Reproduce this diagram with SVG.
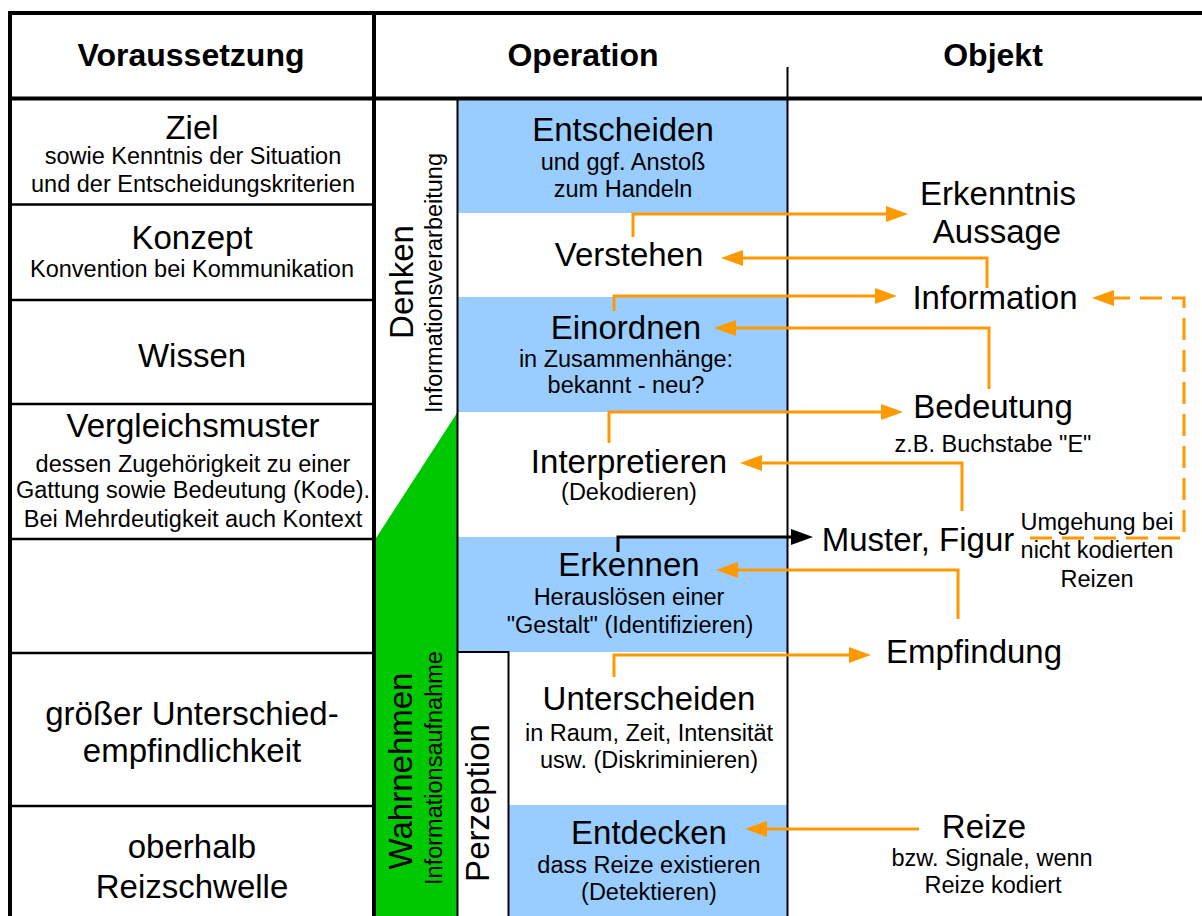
<svg xmlns="http://www.w3.org/2000/svg" width="1202" height="916" viewBox="0 0 1202 916">
<style>
text{font-family:"Liberation Sans",Arial,sans-serif;fill:#000;text-anchor:middle}
.big{font-size:33px}
.sm{font-size:23.5px}
.hdr{font-size:32px;font-weight:bold}
.frame{stroke:#000;stroke-width:4;fill:none}
.row{stroke:#000;stroke-width:2.5;fill:none}
.thin{stroke:#000;stroke-width:2;fill:none}
.blue{fill:#99CCFF}
.con{stroke:#FF9900;stroke-width:3;fill:none}
</style>
<defs>
<marker id="ao" markerUnits="userSpaceOnUse" markerWidth="22" markerHeight="16" refX="0" refY="8" orient="auto"><path d="M0,0 L22,8 L0,16 z" fill="#FF9900"/></marker>
<marker id="ab" markerUnits="userSpaceOnUse" markerWidth="22" markerHeight="16" refX="0" refY="8" orient="auto"><path d="M0,0 L22,8 L0,16 z" fill="#000"/></marker>
</defs>
<rect width="1202" height="916" fill="#fff"/>

<g id="backgrounds">
<rect class="blue" x="458" y="98" width="329" height="115"/>
<rect class="blue" x="458" y="297" width="329" height="115"/>
<rect class="blue" x="458" y="537" width="329" height="115"/>
<rect class="blue" x="509" y="805" width="278" height="111"/>
<polygon points="376,538 457,413 457,916 376,916" fill="#00C800"/>
</g>

<g id="grid">
<line class="frame" x1="8.5" y1="13" x2="1202" y2="13"/>
<line class="frame" x1="10" y1="11" x2="10" y2="916"/>
<line class="frame" x1="8" y1="98.5" x2="1202" y2="98.5"/>
<line class="frame" x1="374" y1="11" x2="374" y2="916"/>
<line class="thin" x1="787.5" y1="67" x2="787.5" y2="916"/>
<line class="thin" x1="457.5" y1="98" x2="457.5" y2="916"/>
<path class="thin" d="M457.5,652 H508.5 V916"/>
<line class="row" x1="10" y1="204.5" x2="374" y2="204.5"/>
<line class="row" x1="10" y1="300" x2="374" y2="300"/>
<line class="row" x1="10" y1="404" x2="374" y2="404"/>
<line class="row" x1="10" y1="539" x2="374" y2="539"/>
<line class="row" x1="10" y1="653" x2="374" y2="653"/>
<line class="row" x1="10" y1="806" x2="374" y2="806"/>
</g>

<g id="header">
<text class="hdr" x="191" y="66">Voraussetzung</text>
<text class="hdr" x="583" y="66">Operation</text>
<text class="hdr" x="993" y="66">Objekt</text>
</g>

<g id="v-ziel"><text class="big" x="192" y="139">Ziel</text><text class="sm" x="193" y="164">sowie Kenntnis der Situation</text><text class="sm" x="193" y="192">und der Entscheidungskriterien</text></g>
<g id="v-konzept"><text class="big" x="192" y="249">Konzept</text><text class="sm" x="192" y="277">Konvention bei Kommunikation</text></g>
<g id="v-wissen"><text class="big" x="192" y="367">Wissen</text></g>
<g id="v-vergleich"><text class="big" x="193" y="437">Vergleichsmuster</text><text class="sm" x="193" y="472">dessen Zugehörigkeit zu einer</text><text class="sm" x="193" y="498">Gattung sowie Bedeutung (Kode).</text><text class="sm" x="193" y="527">Bei Mehrdeutigkeit auch Kontext</text></g>
<g id="v-unterschied"><text class="big" x="192" y="725">größer Unterschied-</text><text class="big" x="192" y="762">empfindlichkeit</text></g>
<g id="v-reizschwelle"><text class="big" x="192" y="858">oberhalb</text><text class="big" x="192" y="898">Reizschwelle</text></g>

<g id="denken"><text class="big" transform="translate(413,282) rotate(-90)">Denken</text><text class="sm" transform="translate(442,283) rotate(-90)">Informationsverarbeitung</text></g>
<g id="wahrnehmen"><text class="big" transform="translate(412,771) rotate(-90)">Wahrnehmen</text><text class="sm" transform="translate(442,768) rotate(-90)">Informationsaufnahme</text></g>
<g id="perzeption"><text class="big" transform="translate(489,803) rotate(-90)">Perzeption</text></g>

<g id="op-entscheiden"><text class="big" x="623" y="141">Entscheiden</text><text class="sm" x="623" y="170">und ggf. Anstoß</text><text class="sm" x="623" y="197">zum Handeln</text></g>
<g id="op-verstehen"><text class="big" x="629" y="266">Verstehen</text></g>
<g id="op-einordnen"><text class="big" x="626" y="339">Einordnen</text><text class="sm" x="626" y="367">in Zusammenhänge:</text><text class="sm" x="626" y="393">bekannt - neu?</text></g>
<g id="op-interpretieren"><text class="big" x="629" y="473">Interpretieren</text><text class="sm" x="629" y="500">(Dekodieren)</text></g>
<g id="op-erkennen"><text class="big" x="629" y="576">Erkennen</text><text class="sm" x="629" y="605">Herauslösen einer</text><text class="sm" x="630" y="633">"Gestalt" (Identifizieren)</text></g>
<g id="op-unterscheiden"><text class="big" x="649" y="710">Unterscheiden</text><text class="sm" x="649" y="741">in Raum, Zeit, Intensität</text><text class="sm" x="649" y="768">usw. (Diskriminieren)</text></g>
<g id="op-entdecken"><text class="big" x="649" y="844">Entdecken</text><text class="sm" x="649" y="873">dass Reize existieren</text><text class="sm" x="649" y="900">(Detektieren)</text></g>

<g id="ob-erkenntnis"><text class="big" x="998" y="205">Erkenntnis</text><text class="big" x="997" y="243">Aussage</text></g>
<g id="ob-information"><text class="big" x="995" y="309">Information</text></g>
<g id="ob-bedeutung"><text class="big" x="993" y="418">Bedeutung</text><text class="sm" x="993" y="452">z.B. Buchstabe "E"</text></g>
<g id="ob-muster"><text class="big" x="918" y="551">Muster, Figur</text></g>
<g id="ob-umgehung"><text class="sm" x="1097" y="530">Umgehung bei</text><text class="sm" x="1097" y="558">nicht kodierten</text><text class="sm" x="1097" y="587">Reizen</text></g>
<g id="ob-empfindung"><text class="big" x="974" y="663">Empfindung</text></g>
<g id="ob-reize"><text class="big" x="984" y="838">Reize</text><text class="sm" x="992" y="866">bzw. Signale, wenn</text><text class="sm" x="993" y="893">Reize kodiert</text></g>

<g id="connectors">
<path class="con" d="M633,237 V214 H886" marker-end="url(#ao)"/>
<path class="con" d="M987,288 V258 H743" marker-end="url(#ao)"/>
<path class="con" d="M614,311 V296 H875" marker-end="url(#ao)"/>
<path class="con" d="M989,389 V328 H736" marker-end="url(#ao)"/>
<path class="con" d="M609,443 V412 H881" marker-end="url(#ao)"/>
<path class="con" d="M962,511 V463 H762" marker-end="url(#ao)"/>
<path d="M618,552 V537 H791" stroke="#000" stroke-width="3" fill="none" marker-end="url(#ab)"/>
<path class="con" d="M958,619 V570 H738" marker-end="url(#ao)"/>
<path class="con" d="M614,677 V655 H849" marker-end="url(#ao)"/>
<path class="con" d="M919,829 H767" marker-end="url(#ao)"/>
<path class="con" d="M1030,538 H1184 V298 H1114" stroke-dasharray="22 10" marker-end="url(#ao)"/>
</g>
</svg>
